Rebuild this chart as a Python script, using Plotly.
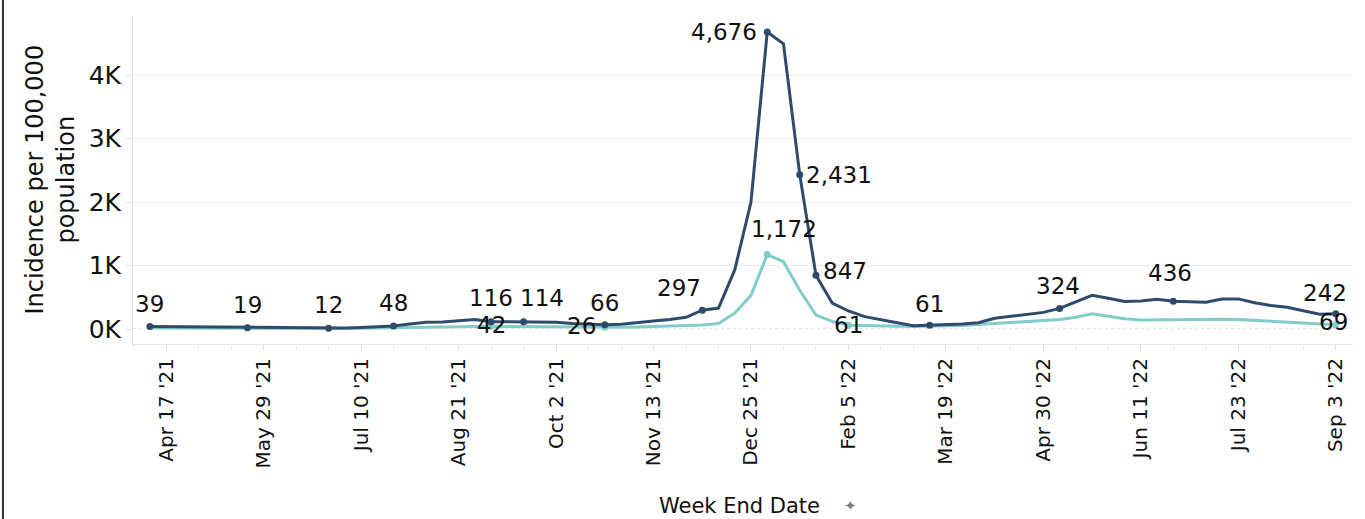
import pandas as pd
import plotly.graph_objects as go

# ---------------- data ----------------
week_end = pd.date_range("2021-04-10", periods=74, freq="7D")

dark_vals = [39, 37, 35, 32, 28, 23, 19, 17, 15, 14,
             13, 12, 16, 24, 34, 48, 80, 105, 112, 135,
             150, 116, 112, 114, 110, 105, 85, 72, 66, 75,
             95, 125, 150, 185, 297, 330, 930, 2000, 4676, 4490,
             2431, 847, 410, 284, 195, 142, 100, 50, 61, 63,
             80, 100, 168, 200, 228, 262, 324, 430, 530, 485,
             432, 440, 469, 436, 425, 421, 474, 474, 415, 370,
             342, 288, 232, 242]

teal_vals = [14, 13, 12, 11, 10, 9, 8, 8, 7, 7,
             7, 8, 10, 13, 17, 22, 28, 33, 36, 40,
             44, 42, 38, 35, 32, 30, 28, 27, 26, 28,
             32, 38, 45, 55, 65, 85, 250, 530, 1172, 1060,
             610, 220, 120, 61, 52, 46, 42, 40, 42, 45,
             55, 70, 85, 100, 112, 125, 150, 185, 240, 200,
             160, 140, 145, 148, 150, 152, 155, 150, 135, 122,
             110, 98, 85, 69]

tick_dates = pd.date_range("2021-04-17", periods=13, freq="42D")
tick_labels = ["Apr 17 '21", "May 29 '21", "Jul 10 '21", "Aug 21 '21", "Oct 2 '21",
               "Nov 13 '21", "Dec 25 '21", "Feb 5 '22", "Mar 19 '22", "Apr 30 '22",
               "Jun 11 '22", "Jul 23 '22", "Sep 3 '22"]

y_tick_vals = [0, 1000, 2000, 3000, 4000]
y_tick_labels = ["0K", "1K", "2K", "3K", "4K"]

dark_label_idx = [0, 6, 11, 15, 21, 23, 28, 34, 38, 40, 41, 48, 56, 63, 73]
teal_label_idx = [21, 28, 38, 43, 73]

# ---------------- style ----------------
DARK = "#2f4b6b"
TEAL = "#80cdc9"
TXT = "#111111"
GRID = "#ececec"
FONT = "DejaVu Sans"
LBL = 23

# label placement offsets (xshift, yshift, xanchor)
dark_offsets = {0: (0, 23, "center"), 6: (0, 23, "center"), 11: (0, 23, "center"),
                15: (0, 23, "center"), 21: (0, 24, "center"), 23: (18, 24, "center"),
                28: (0, 22, "center"), 34: (-23, 22, "center"), 38: (-8, 0, "right"),
                40: (4, 0, "left"), 41: (5, 4, "left"), 48: (0, 21, "center"),
                56: (-2, 22, "center"), 63: (-3, 28, "center"), 73: (-11, 21, "center")}
teal_offsets = {21: (0, 1, "center"), 28: (-23, 1, "center"), 38: (17, 26, "center"),
                43: (0, 0, "center"), 73: (-2, 3, "center")}

fig = go.Figure()
fig.add_trace(go.Scatter(x=week_end, y=teal_vals, mode="lines", name="Series 2",
                         line=dict(color=TEAL, width=3), showlegend=False))
fig.add_trace(go.Scatter(x=week_end, y=dark_vals, mode="lines", name="Series 1",
                         line=dict(color=DARK, width=3), showlegend=False))
fig.add_trace(go.Scatter(x=[week_end[i] for i in teal_label_idx],
                         y=[teal_vals[i] for i in teal_label_idx], mode="markers",
                         marker=dict(color=TEAL, size=7), showlegend=False))
fig.add_trace(go.Scatter(x=[week_end[i] for i in dark_label_idx],
                         y=[dark_vals[i] for i in dark_label_idx], mode="markers",
                         marker=dict(color=DARK, size=7), showlegend=False))

annotations = []
for i in dark_label_idx:
    xs, ys, xa = dark_offsets[i]
    annotations.append(dict(x=week_end[i], y=dark_vals[i], text=f"{dark_vals[i]:,}",
                            showarrow=False, xanchor=xa, yanchor="middle",
                            xshift=xs, yshift=ys, font=dict(family=FONT, size=LBL, color=TXT)))
for i in teal_label_idx:
    xs, ys, xa = teal_offsets[i]
    annotations.append(dict(x=week_end[i], y=teal_vals[i], text=f"{teal_vals[i]:,}",
                            showarrow=False, xanchor=xa, yanchor="middle",
                            xshift=xs, yshift=ys, font=dict(family=FONT, size=LBL, color=TXT)))

# axis titles
annotations.append(dict(xref="paper", yref="paper", x=-0.068, y=0.5,
                        text="Incidence per 100,000<br>population", textangle=-90,
                        showarrow=False, xanchor="center", yanchor="middle",
                        font=dict(family=FONT, size=24, color=TXT)))
annotations.append(dict(xref="paper", yref="paper", x=0.4975, y=-0.492,
                        text="Week End Date", showarrow=False,
                        xanchor="center", yanchor="middle",
                        font=dict(family=FONT, size=21, color=TXT)))
annotations.append(dict(xref="paper", yref="paper", x=0.588, y=-0.492,
                        text="✦", showarrow=False, xanchor="center", yanchor="middle",
                        font=dict(family=FONT, size=15, color="#7a7f87")))

x_start = week_end[0] - pd.Timedelta(days=7.3)
x_end = week_end[0] + pd.Timedelta(days=74.06 * 7)

fig.update_layout(
    width=1365, height=519,
    margin=dict(l=133, r=12, t=15, b=175),
    plot_bgcolor="white", paper_bgcolor="white",
    font=dict(family=FONT, color=TXT),
    annotations=annotations,
    shapes=[
        dict(type="line", xref="paper", yref="y", x0=0, x1=1, y0=0, y1=0,
             line=dict(color="#c8c8c8", width=1, dash="dot"), layer="below"),
        dict(type="line", xref="paper", yref="paper", x0=-0.1066, x1=-0.1066,
             y0=-0.55, y1=1.06, line=dict(color="#333333", width=2)),
    ],
)

fig.update_xaxes(
    range=[x_start, x_end],
    tickmode="array", tickvals=tick_dates, ticktext=tick_labels,
    tickangle=-90, tickfont=dict(family=FONT, size=20, color=TXT),
    ticks="outside", ticklen=5, tickcolor="#dddddd",
    minor=dict(ticks="outside", ticklen=5, tickcolor="#e6e6e6",
               tick0="2021-04-03", dtick=14 * 86400000),
    showgrid=False, showline=True, linecolor="#e6e6e6", linewidth=1,
    zeroline=False,
)
fig.update_yaxes(
    range=[-236, 4945],
    tickmode="array", tickvals=y_tick_vals, ticktext=y_tick_labels,
    tickfont=dict(family=FONT, size=25, color=TXT),
    ticks="outside", ticklen=6, tickcolor="#e0e0e0",
    showgrid=True, gridcolor=GRID, gridwidth=1,
    zeroline=True, zerolinecolor="white", zerolinewidth=1,
    showline=True, linecolor="#e6e6e6", linewidth=1,
)

fig.write_html("out.html", config={"displayModeBar": False},
               post_script="document.body.style.margin='0';")
